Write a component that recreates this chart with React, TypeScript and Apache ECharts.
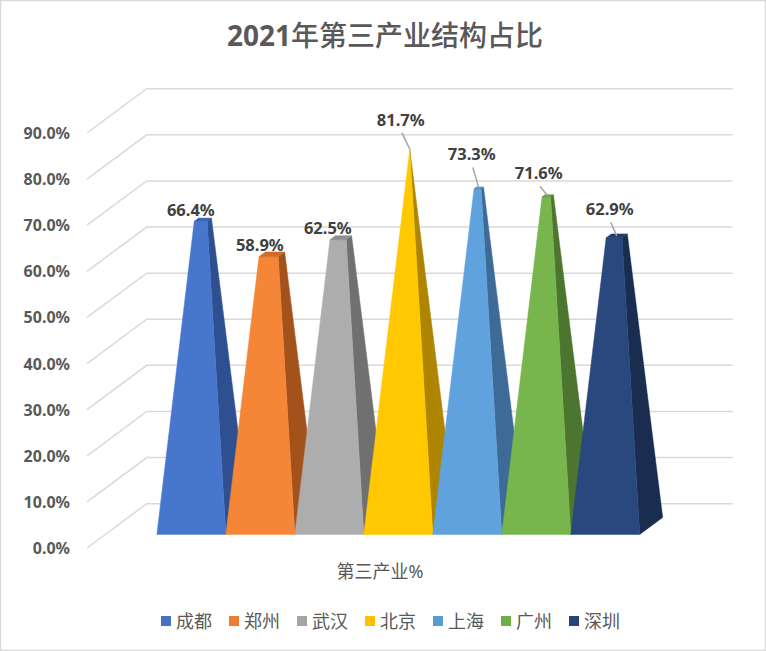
import React, { useEffect, useRef } from "react";
import * as echarts from "echarts";

// ---------- data ----------
const TITLE_YEAR = "2021";
const TITLE_REST = "年第三产业结构占比";
const CATEGORIES = ["第三产业%"];
const CITIES = ["成都", "郑州", "武汉", "北京", "上海", "广州", "深圳"];
const VALUES = [66.4, 58.9, 62.5, 81.7, 73.3, 71.6, 62.9];
const Y_TICKS = [0, 10, 20, 30, 40, 50, 60, 70, 80, 90];

// ---------- styles ----------
const LEGEND_COLORS = ["#4472C4", "#ED7D31", "#A5A5A5", "#FFC000", "#5B9BD5", "#70AD47", "#264478"];
const FRONT_COLORS = ["#4777CD", "#F58537", "#ADADAD", "#FFC800", "#60A2DE", "#79B54D", "#29487D"];
const SIDE_COLORS = ["#2E5090", "#A4521C", "#707070", "#AE8500", "#3D6A97", "#4C7530", "#192D50"];
const TOP_COLORS = ["#3B66B6", "#D06C28", "#8E8E8E", "#DDAA00", "#4F86BB", "#629A3E", "#213C6A"];
const LABEL_OFFSETS = [[-12, -10], [-12, -10], [-13, -10], [-9, -30], [-7, -34], [-9, -23], [-7, -27]];
const LEADERS = [false, false, false, true, true, true, true];

const FONT = '"Noto Sans", "Noto Sans CJK SC", sans-serif';
const DEPTH_DX = 59.7; // full floor depth projection
const DEPTH_DY = -44.3;
const FRONT_FRAC = 0.307; // bar front position within floor depth
const BAR_DEPTH_FRAC = 0.384; // bar depth within floor depth
const GROUP_RATIO = 0.824; // share of category band taken by bars

export default function App() {
  const ref = useRef<HTMLDivElement>(null);

  useEffect(() => {
    if (!ref.current) return;
    const chart = echarts.init(ref.current, null, { renderer: "svg" });
    const maxV = Math.max(...VALUES);
    const n = CITIES.length;

    const pyramidSeries = CITIES.map((city, i) => ({
      type: "custom",
      name: city,
      z: 2,
      clip: false,
      itemStyle: { color: LEGEND_COLORS[i] },
      data: [[0, VALUES[i]]],
      renderItem: (params: any, api: any) => {
        const v = api.value(1);
        const base = api.coord([0, 0]);
        const band = api.size([1, 0])[0];
        const barW = (band * GROUP_RATIO) / n;
        const groupLeft = base[0] - (barW * n) / 2;
        const fx = groupLeft + i * barW + DEPTH_DX * FRONT_FRAC;
        const fy = base[1] + DEPTH_DY * FRONT_FRAC;
        const dx = DEPTH_DX * BAR_DEPTH_FRAC;
        const dy = DEPTH_DY * BAR_DEPTH_FRAC;
        const hMax = base[1] - api.coord([0, maxV])[1];
        const FL = [fx, fy];
        const FR = [fx + barW, fy];
        const BR = [fx + barW + dx, fy + dy];
        const BL = [fx + dx, fy + dy];
        const center = [fx + barW / 2 + dx / 2, fy + dy / 2];
        const apex = [center[0], center[1] - hMax];
        const t = v / maxV;
        const lerp = (c: number[]) => [c[0] + t * (apex[0] - c[0]), c[1] + t * (apex[1] - c[1])];
        const FLt = lerp(FL), FRt = lerp(FR), BRt = lerp(BR), BLt = lerp(BL);
        const top = lerp(center);
        const off = LABEL_OFFSETS[i];
        const lx = top[0] + off[0];
        const ly = top[1] + off[1];
        const children: any[] = [
          {
            type: "polygon",
            z2: i * 4 + 1,
            shape: { points: [FR, BR, BRt, FRt] },
            style: { fill: SIDE_COLORS[i], stroke: SIDE_COLORS[i], lineWidth: 0.5 },
          },
          {
            type: "polygon",
            z2: i * 4 + 2,
            shape: { points: [FL, FR, FRt, FLt] },
            style: { fill: FRONT_COLORS[i], stroke: FRONT_COLORS[i], lineWidth: 0.5 },
          },
          {
            type: "polygon",
            z2: i * 4 + 3,
            shape: { points: [FLt, FRt, BRt, BLt] },
            style: { fill: TOP_COLORS[i], stroke: TOP_COLORS[i], lineWidth: 0.5 },
          },
        ];
        if (LEADERS[i]) {
          children.push({
            type: "line",
            z2: 1000,
            shape: { x1: lx + 1, y1: ly + 13.5, x2: top[0], y2: top[1] },
            style: { stroke: "#A6A6A6", lineWidth: 1.5 },
          });
        }
        children.push({
          type: "text",
          z2: 1001,
          style: {
            text: v.toFixed(1) + "%",
            x: lx,
            y: ly,
            align: "center",
            verticalAlign: "middle",
            fill: "#404040",
            font: `bold 16.5px ${FONT}`,
          },
        });
        return { type: "group", children };
      },
    }));

    const gridSeries = {
      type: "custom",
      name: "grid",
      z: 1,
      clip: false,
      silent: true,
      data: Y_TICKS.map((v) => [0, v]),
      renderItem: (params: any, api: any) => {
        const cs = params.coordSys;
        const y = api.coord([0, api.value(1)])[1];
        return {
          type: "polyline",
          shape: {
            points: [
              [cs.x, y],
              [cs.x + DEPTH_DX, y + DEPTH_DY],
              [cs.x + cs.width + DEPTH_DX, y + DEPTH_DY],
            ],
          },
          style: { stroke: "#D9D9D9", lineWidth: 1.5, fill: "none" },
        };
      },
    };

    chart.setOption({
      animation: false,
      textStyle: { fontFamily: FONT },
      title: {
        text: `{a|${TITLE_YEAR}}{b|${TITLE_REST}}`,
        left: 222,
        top: 16,
        textStyle: {
          rich: {
            a: { fontSize: 28, fontWeight: "bold", color: "#595959", fontFamily: FONT },
            b: { fontSize: 28, fontWeight: 500, color: "#595959", fontFamily: FONT },
          },
        },
      },
      grid: { left: 87, right: 93, top: 133, bottom: 103 },
      xAxis: {
        type: "category",
        data: CATEGORIES,
        axisLine: { show: false },
        axisTick: { show: false },
        axisLabel: { margin: 14, fontSize: 18, color: "#595959" },
      },
      yAxis: {
        type: "value",
        min: 0,
        max: 90,
        interval: 10,
        axisLine: { show: false },
        axisTick: { show: false },
        splitLine: { show: false },
        axisLabel: {
          margin: 17,
          fontSize: 16,
          fontWeight: "bold",
          color: "#595959",
          formatter: (v: number) => v.toFixed(1) + "%",
        },
      },
      legend: {
        data: CITIES,
        left: 156,
        top: 607,
        icon: "rect",
        itemWidth: 10,
        itemHeight: 10,
        itemGap: 17,
        textStyle: { fontSize: 18, color: "#595959" },
      },
      graphic: [
        {
          type: "rect",
          silent: true,
          shape: { x: 0.5, y: 0.5, width: 765, height: 650 },
          style: { fill: "none", stroke: "#D9D9D9", lineWidth: 1.5 },
        },
      ],
      series: [...pyramidSeries, gridSeries],
    });

    return () => chart.dispose();
  }, []);

  return (
    <div
      ref={ref}
      style={{ position: "fixed", left: 0, top: 0, width: 766, height: 651, background: "#fff" }}
    />
  );
}
